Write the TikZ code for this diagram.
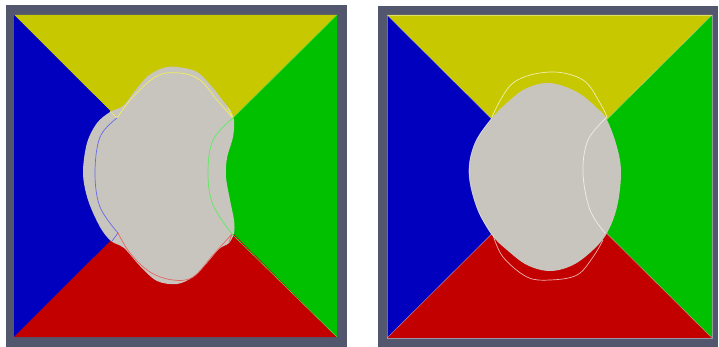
\documentclass[tikz,border=0pt]{standalone}
\usepackage{xcolor}
\usetikzlibrary{calc}

\definecolor{framegray}{RGB}{82,87,110}
\definecolor{topyellow}{RGB}{200,200,0}
\definecolor{leftblue}{RGB}{0,0,190}
\definecolor{rightgreen}{RGB}{0,192,0}
\definecolor{bottomred}{RGB}{194,0,0}
\definecolor{blobgray}{RGB}{200,197,190}
\definecolor{lineyellow}{RGB}{240,240,90}
\definecolor{lineblue}{RGB}{105,105,235}
\definecolor{linegreen}{RGB}{95,235,95}
\definecolor{linered}{RGB}{235,100,100}

\tikzset{
  frame/.style={fill=framegray},
  blob/.style={fill=blobgray},
  interface/.style={line width=0.7pt, draw=#1},
  seam/.style={line width=0.6pt, draw=white, opacity=0.4},
}

\begin{document}
\begin{tikzpicture}[x=1pt, y=-1pt, line join=round]
  \useasboundingbox (0,0) rectangle (719,347);

  % left panel: frame and four wedges
  \fill[frame] (6,5) rectangle (347,347);
  \coordinate (L-nw) at (14,15);
  \coordinate (L-ne) at (337,15);
  \coordinate (L-sw) at (14,337);
  \coordinate (L-se) at (337,337);
  \coordinate (L-c) at (175.5,176);
  \fill[topyellow] (L-nw) -- (L-ne) -- (L-c) -- cycle;
  \fill[leftblue] (L-nw) -- (L-sw) -- (L-c) -- cycle;
  \fill[rightgreen] (L-ne) -- (L-se) -- (L-c) -- cycle;
  \fill[bottomred] (L-sw) -- (L-se) -- (L-c) -- cycle;

  % left panel: deformed droplet
  \fill[blob] plot[smooth cycle, tension=0.55] coordinates {
    (177,67) (197,72) (213,88) (223,101) (231,111) (234,121) (233,137)
    (227,158) (226,177) (230,200) (234,220) (234,233) (229,243) (219,249)
    (207,263) (193,277) (177,284) (157,281) (140,266) (124,248) (111,241)
    (100,227) (88,200) (83,173) (87,143) (97,123) (110,112) (123,106)
    (134,92) (148,76) (163,68)};

  % left panel: initial interface, one arc per phase
  \draw[interface=lineyellow] (110,111) -- (117,118)
    plot[smooth, tension=0.6] coordinates {(117,118) (133,97) (157,76) (180,73) (200,80) (217,100) (233,118)}
    -- (228,108);
  \draw[interface=lineblue] (112,241) -- (118,233)
    plot[smooth, tension=0.6] coordinates {(117,118) (100,137) (95,173) (100,207) (118,233)};
  \draw[interface=linegreen]
    plot[smooth, tension=0.6] coordinates {(233,118) (213,140) (208,173) (213,205) (232,234)};
  \draw[interface=linered] (232,234) -- (229,242)
    plot[smooth, tension=0.6] coordinates {(118,233) (130,253) (150,272) (173,280) (193,277) (213,255) (232,234)};
  \draw[line width=0.6pt, linegreen!70!rightgreen] (233,118) -- (L-ne);
  \draw[line width=0.6pt, linegreen!70!rightgreen] (232,234) -- (L-se);

  % right panel: frame and four wedges
  \fill[frame] (378,6) rectangle (718,347);
  \coordinate (R-nw) at (387,15);
  \coordinate (R-ne) at (712,15);
  \coordinate (R-sw) at (387,338);
  \coordinate (R-se) at (712,338);
  \coordinate (R-c) at (549.5,176.5);
  \fill[topyellow] (R-nw) -- (R-ne) -- (R-c) -- cycle;
  \fill[leftblue] (R-nw) -- (R-sw) -- (R-c) -- cycle;
  \fill[rightgreen] (R-ne) -- (R-se) -- (R-c) -- cycle;
  \fill[bottomred] (R-sw) -- (R-se) -- (R-c) -- cycle;
  \draw[seam] (R-nw) rectangle (R-se);
  \draw[seam] (R-nw) -- (R-se) (R-ne) -- (R-sw);

  % right panel: relaxed droplet
  \fill[blob] plot[smooth cycle, tension=0.6] coordinates {
    (550,83) (577,92) (597,108) (607,120) (617,147) (621,173) (617,207)
    (607,233) (593,250) (573,265) (550,271) (527,265) (507,250) (492,235)
    (477,208) (469,173) (475,143) (492,118) (510,100) (527,88)};
  \draw[line width=0.6pt, white, opacity=0.6]
    plot[smooth, tension=0.6] coordinates {(492,118) (475,143) (469,173) (477,208) (492,235)};

  % right panel: initial interface
  \draw[interface=white, opacity=0.7]
    plot[smooth, tension=0.6] coordinates {(492,117) (513,83) (550,72) (583,80) (600,103) (607,117)};
  \draw[interface=white, opacity=0.7]
    plot[smooth, tension=0.6] coordinates {(607,117) (588,140) (583,173) (590,210) (605,233)};
  \draw[interface=white, opacity=0.7]
    plot[smooth, tension=0.6] coordinates {(493,235) (503,257) (527,277) (550,280) (577,275) (593,257) (603,240)};
\end{tikzpicture}
\end{document}
